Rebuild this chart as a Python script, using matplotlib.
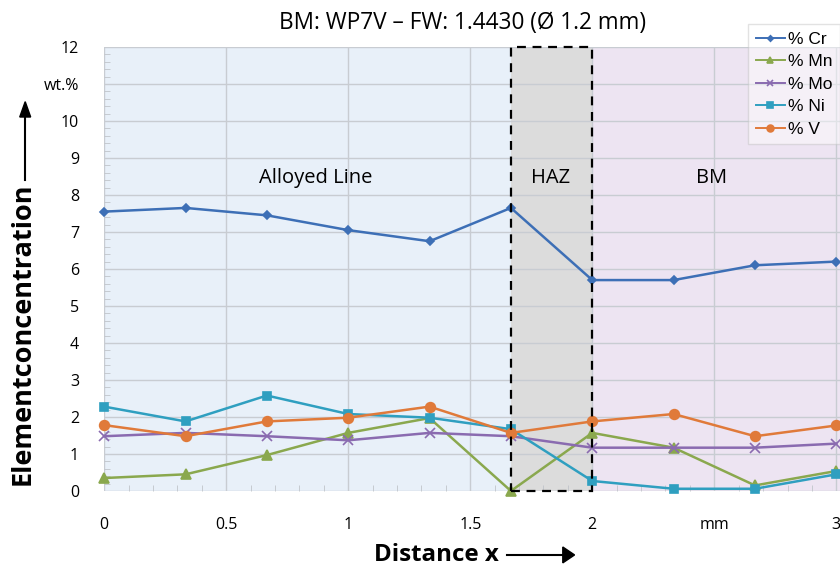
import matplotlib.pyplot as plt
from matplotlib.patches import Rectangle
from matplotlib.ticker import MultipleLocator

# distance along the sample, mm
x = [0, 1/3, 2/3, 1, 4/3, 5/3, 2, 7/3, 8/3, 3]
cr = [7.55, 7.65, 7.45, 7.05, 6.75, 7.65, 5.7, 5.7, 6.1, 6.2]
mn = [0.35, 0.45, 0.97, 1.57, 1.97, 0.0, 1.57, 1.17, 0.15, 0.54]
mo = [1.48, 1.57, 1.48, 1.37, 1.57, 1.48, 1.17, 1.17, 1.17, 1.28]
ni = [2.28, 1.88, 2.58, 2.08, 1.98, 1.67, 0.27, 0.06, 0.06, 0.45]
v = [1.78, 1.48, 1.88, 1.98, 2.28, 1.57, 1.88, 2.08, 1.48, 1.77]

xticks = [0, 0.5, 1, 1.5, 2, 2.5, 3]
xticklabels = ['0', '0.5', '1', '1.5', '2', 'mm', '3']
yticks = list(range(13))
yticklabels = [str(i) for i in range(11)] + ['wt.%', '12']

zones = [(0, 5/3, '#e8f0f9', 'Alloyed Line', 0.865),
         (5/3, 2, '#dcdcdc', 'HAZ', 1.83),
         (2, 3.1, '#ede4f2', 'BM', 2.49)]

fig = plt.figure(figsize=(8.4, 5.68), dpi=100)
ax = fig.add_axes([0.124, 0.1356, 0.876, 0.7817])

for x0, x1, col, name, tx in zones:
    ax.axvspan(x0, x1, color=col, zorder=0, lw=0)
    ax.text(tx, 8.45, name, ha='center', va='center', fontsize=14.5,
            family='Open Sans')
ax.add_patch(Rectangle((5/3, 0), 1/3, 12, fill=False, ls=(0, (4, 3)),
                       lw=1.6, ec='black', zorder=5, clip_on=False))

series = [
    (cr, '% Cr', '#3d6fb6', 'D', 4),
    (mn, '% Mn', '#8aa84e', '^', 7),
    (mo, '% Mo', '#8a6bb0', 'x', 7),
    (ni, '% Ni', '#2f9fc0', 's', 6),
    (v, '% V', '#e07a3a', 'o', 7),
]
for vals, lab, col, mk, ms in series:
    ax.plot(x, vals, color=col, marker=mk, ms=ms, lw=1.8, label=lab,
            clip_on=False, zorder=4, mew=1.2)

ax.set_xlim(0, 3.015)
ax.set_ylim(0, 12)
ax.set_xticks(xticks)
ax.set_xticklabels(xticklabels)
ax.set_yticks(yticks)
ax.set_yticklabels(yticklabels)
ax.xaxis.set_minor_locator(MultipleLocator(0.1))
ax.yaxis.set_minor_locator(MultipleLocator(0.2))
ax.grid(True, which='major', color='#c8ccd2', lw=1)
ax.tick_params(axis='x', which='both', direction='in', length=4, pad=19,
               labelsize=11.5, colors='#c0c4ca', labelcolor='black')
ax.tick_params(axis='y', which='both', direction='in', length=4, pad=18,
               labelsize=11.5, colors='#c0c4ca', labelcolor='black')
ax.tick_params(which='major', length=0)
for lbl in ax.get_xticklabels() + ax.get_yticklabels():
    lbl.set_family('Open Sans')
for s in ax.spines.values():
    s.set_visible(False)

leg = ax.legend(loc='upper right', bbox_to_anchor=(1.0, 1.052), frameon=True,
                fancybox=False, edgecolor='#bfbfbf', framealpha=0.45,
                prop={'family': 'Liberation Sans', 'size': 12.5},
                handlelength=1.7, handletextpad=0.15, labelspacing=0.42,
                borderpad=0.45, borderaxespad=0, markerscale=0.7)
leg.get_frame().set_linewidth(1)
for ln in leg.get_lines():
    ln.set_linewidth(1.4)

fig.text(0.55, 0.96, 'BM: WP7V \u2013 FW: 1.4430 (\u00d8 1.2 mm)',
         ha='center', va='center', fontsize=16.3, family='Open Sans')

fig.text(0.027, 0.413, 'Elementconcentration', rotation=90, ha='center',
         va='center', fontsize=19.5, fontweight='bold', family='Open Sans')
fig.add_artist(plt.Line2D([0.030, 0.030], [0.683, 0.796], color='black', lw=1.5))
fig.patches.append(plt.Polygon([[0.0235, 0.794], [0.0365, 0.794], [0.030, 0.821]],
                               closed=True, color='black',
                               transform=fig.transFigure, figure=fig))

fig.text(0.52, 0.023, 'Distance x', ha='center', va='center', fontsize=17.4,
         fontweight='bold', family='Open Sans')
fig.add_artist(plt.Line2D([0.604, 0.672], [0.023, 0.023], color='black', lw=1.5))
fig.patches.append(plt.Polygon([[0.670, 0.009], [0.670, 0.037], [0.684, 0.023]],
                               closed=True, color='black',
                               transform=fig.transFigure, figure=fig))

fig.savefig('out.png', dpi=100)
